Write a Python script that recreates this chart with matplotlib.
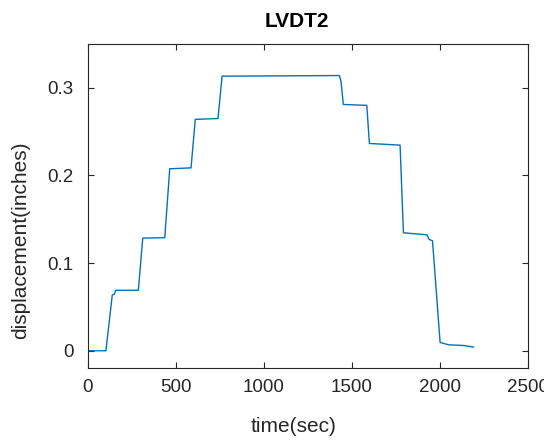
import matplotlib
matplotlib.use("Agg")
import matplotlib.pyplot as plt

# LVDT2 readings
time_sec = [0, 104, 140, 152, 159, 288, 313, 438, 466, 587, 611, 740, 763,
            1429, 1438, 1451, 1584, 1599, 1773, 1792, 1925, 1938, 1957,
            2000, 2048, 2133, 2190]
disp_in = [0.0, 0.0, 0.0635, 0.0646, 0.069, 0.069, 0.1285, 0.129, 0.2076,
           0.2087, 0.264, 0.265, 0.3133, 0.314, 0.307, 0.281, 0.280, 0.2365,
           0.2346, 0.1346, 0.1323, 0.127, 0.1255, 0.0095, 0.0068, 0.006, 0.0042]

xticks = [0, 500, 1000, 1500, 2000, 2500]
yticks = [0, 0.1, 0.2, 0.3]

plt.rcParams['font.family'] = ['Liberation Sans', 'DejaVu Sans']
dark = '#262626'

fig = plt.figure(figsize=(5.44, 4.40), dpi=100)
ax = fig.add_axes([0.161, 0.163, 0.81, 0.737])

ax.plot(time_sec, disp_in, color='#0072BD', linewidth=1.0)

ax.set_xlim(0, 2500)
ax.set_ylim(-0.02, 0.35)
ax.set_xticks(xticks)
ax.set_xticklabels([str(t) for t in xticks])
ax.set_yticks(yticks)
ax.set_yticklabels(['0', '0.1', '0.2', '0.3'])

ax.tick_params(direction='in', top=True, right=True, length=4, width=0.8,
               colors=dark, labelsize=13.5)
ax.tick_params(axis='x', pad=8)
ax.tick_params(axis='y', pad=10)
for s in ax.spines.values():
    s.set_color(dark)
    s.set_linewidth(0.8)

ax.set_xlabel('time(sec)', fontsize=15, color=dark)
ax.xaxis.set_label_coords(0.468, -0.151)
ax.set_ylabel('displacement(inches)', fontsize=15, color=dark)
ax.yaxis.set_label_coords(-0.131, 0.396)
t = ax.set_title('LVDT2', fontsize=15, fontweight='bold', color='black', pad=12.5)
t.set_x(0.474)

fig.savefig('out.png', dpi=100)
